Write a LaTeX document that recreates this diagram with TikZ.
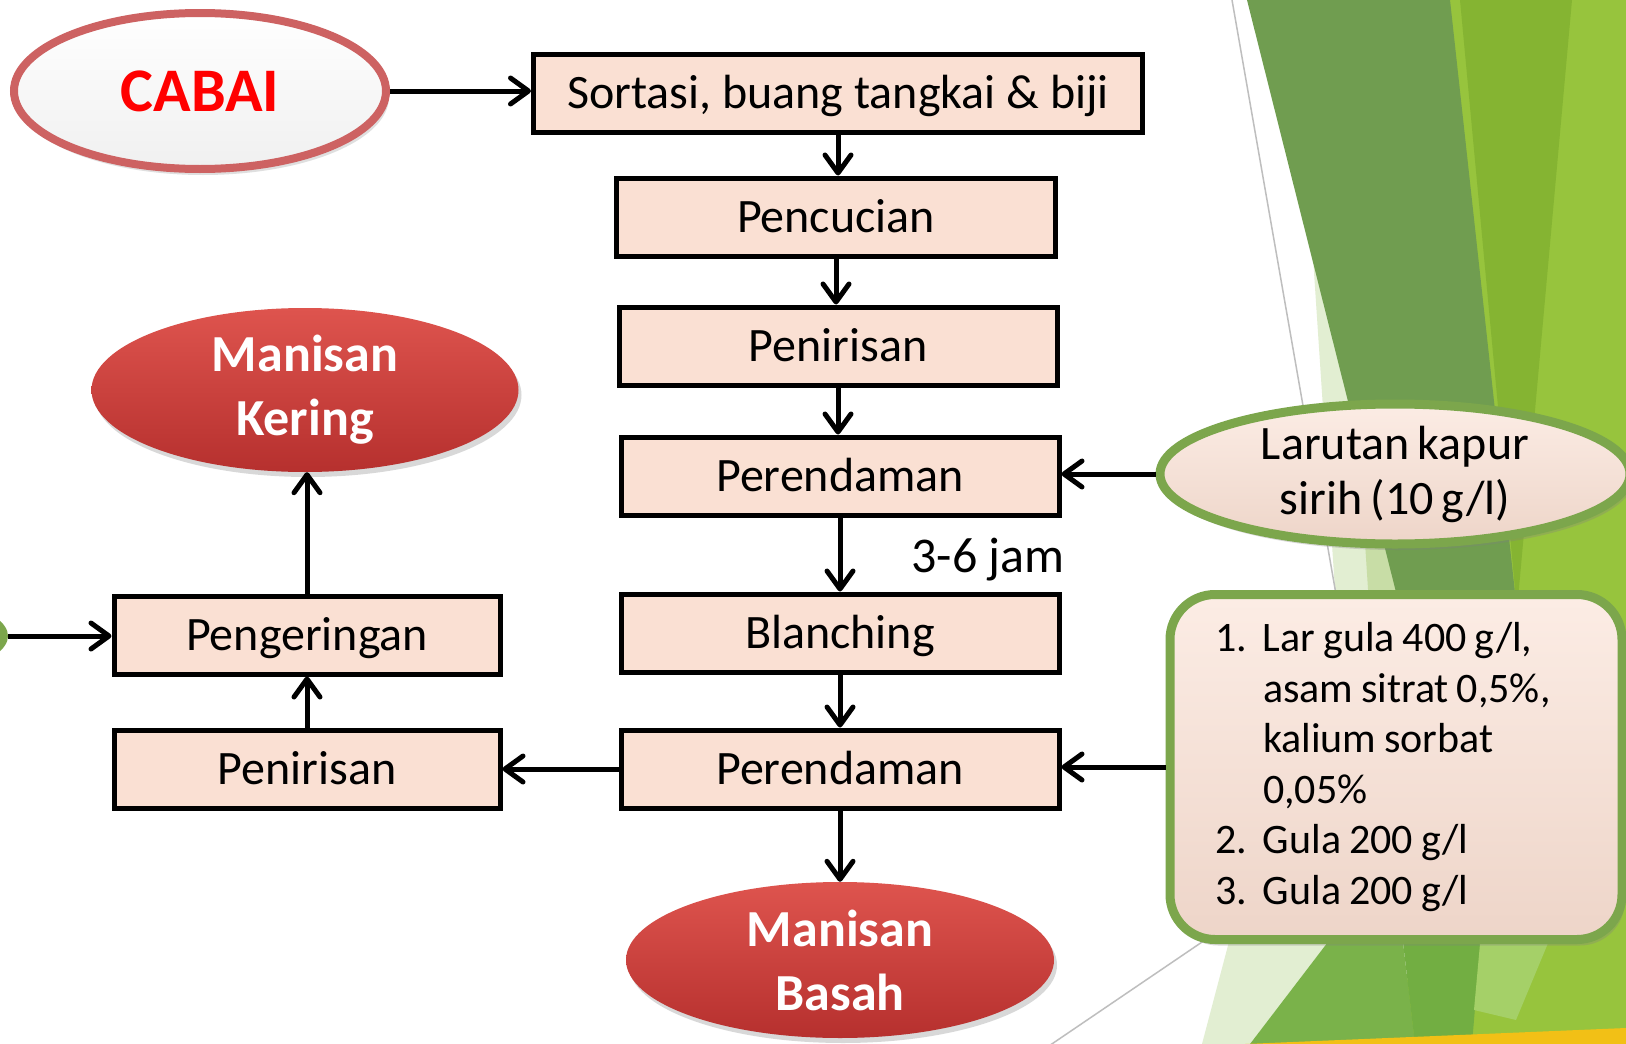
\documentclass[tikz,border=0pt]{standalone}
\usepackage{fontspec}
\setmainfont{Carlito}
\usetikzlibrary{arrows.meta,shapes.geometric,shadows,calc}
\definecolor{boxfill}{RGB}{250,224,211}
\definecolor{gdark}{RGB}{112,157,80}
\definecolor{gmid}{RGB}{133,180,50}
\definecolor{gbright}{RGB}{151,196,61}
\definecolor{gpale}{RGB}{226,238,210}
\definecolor{glight}{RGB}{200,221,166}
\definecolor{gbot}{RGB}{122,178,74}
\definecolor{gbotb}{RGB}{114,174,66}
\definecolor{gbotl}{RGB}{165,208,104}
\definecolor{yband}{RGB}{242,192,22}
\definecolor{redtop}{RGB}{222,84,78}
\definecolor{redbot}{RGB}{182,48,46}
\definecolor{greenedge}{RGB}{124,166,76}
\definecolor{cabaiedge}{RGB}{205,98,98}
\newcommand\larfont{\fontsize{48}{55}\selectfont\spaceskip=0.17em\relax}
\newcommand\listfont{\fontsize{42}{50.5}\selectfont}
\newcommand\tightsp{\spaceskip=0.19em\xspaceskip=0.19em\relax}
\begin{document}
\begin{tikzpicture}[x=1pt,y=-1pt,
  procbox/.style={draw=black, line width=5pt, fill=boxfill, minimum height=78pt,
    inner sep=0pt, text height=34pt, text depth=3pt, font=\fontsize{48}{58}\selectfont},
  arr/.style={line width=5pt, -{Straight Barb[length=18pt,width=26pt,round]}},
  redoval/.style={ellipse, inner sep=0pt, top color=redtop, bottom color=redbot,
    text=white, align=center, font=\fontsize{52}{64}\selectfont\bfseries,
    drop shadow={opacity=0.3, shadow xshift=3pt, shadow yshift=-5pt}},
  greenedged/.style={draw=greenedge, line width=9pt, top color=boxfill!60!white, bottom color=boxfill!95!black,
    drop shadow={opacity=0.3, shadow xshift=3pt, shadow yshift=-6pt}},
  bgline/.style={draw={rgb,255:red,190;green,190;blue,190}, line width=1.5pt}
]
\useasboundingbox (0,0) rectangle (1626,1044);
\clip (0,0) rectangle (1626,1044);
\fill[white] (0,0) rectangle (1626,1044);
% background facets
\fill[gbright] (1440,0) -- (1626,0) -- (1626,1044) -- (1400,1044) -- (1450,600) -- cycle;
\fill[gpale] (1296,0) -- (1340,0) -- (1372,620) -- (1337,620) -- cycle;
\fill[glight] (1330,0) -- (1362,0) -- (1404,620) -- (1370,620) -- cycle;
\fill[gdark] (1247,0) -- (1450,0) -- (1518,620) -- (1403,620) -- cycle;
\fill[gmid] (1460,0) -- (1572,0) -- (1517,610) -- cycle;
\fill[gpale] (1240,900) -- (1360,900) -- (1250,1044) -- (1202,1044) -- cycle;
\fill[gbot] (1360,900) -- (1398,900) -- (1415,1044) -- (1250,1044) -- cycle;
\fill[gbotb] (1398,900) -- (1484,900) -- (1472,1044) -- (1415,1044) -- cycle;
\fill[gbotl] (1484,900) -- (1566,900) -- (1516,1020) -- (1474,1010) -- cycle;
\fill[yband] (1245,1044) -- (1626,1028) -- (1626,1044) -- cycle;
\draw[bgline] (1232,0) -- (1337,600);
\draw[bgline] (1040,1052) -- (1205,940);

% main column
\node[procbox, minimum width=609pt] (s1) at (838,93) {Sortasi, buang tangkai \& biji};
\node[procbox, minimum width=439pt] (s2) at (836,217) {Pencucian};
\node[procbox, minimum width=438pt] (s3) at (838,346) {Penirisan};
\node[procbox, minimum width=438pt] (s4) at (840,476) {Perendaman};
\node[procbox, minimum width=438pt] (s5) at (840,633) {Blanching};
\node[procbox, minimum width=438pt] (s6) at (840,769) {Perendaman};
\node[font=\fontsize{50}{60}\selectfont] (jam) at (988,560) {3-6 jam};

% left column
\node[procbox, minimum width=386pt] (p1) at (307,769) {Penirisan};
\node[procbox, minimum width=386pt] (p2) at (307,635) {Pengeringan};

% ovals
\node[ellipse, inner sep=0pt, minimum width=372pt, minimum height=156pt,
  draw=cabaiedge, line width=8pt, top color=white, bottom color=black!6,
  text=red, font=\fontsize{62}{72}\selectfont\bfseries,
  drop shadow={opacity=0.25, shadow xshift=3pt, shadow yshift=-6pt}] (cabai) at (200,91) {CABAI};
\node[redoval, minimum width=427pt, minimum height=164pt] (kering) at (305,390) {Manisan\\Kering};
\node[redoval, minimum width=428pt, minimum height=156pt] (basah) at (840,960) {Manisan\\Basah};
\node[ellipse, inner sep=0pt, minimum width=316pt, minimum height=96pt, fill=greenedge] (dry) at (-150,636) {};

% inputs
\node[greenedged, ellipse, inner sep=0pt, minimum width=470pt, minimum height=140pt,
  align=center, font=\larfont] (lar) at (1395,474) {Larutan kapur\\sirih (10 g/l)};
\node[greenedged, rounded corners=45pt, inner sep=0pt, minimum width=452pt, minimum height=345pt,
  text width=362pt, align=left, font=\listfont] (sugar) at (1396,767)
  {\tightsp\makebox[48pt][l]{1.}Lar gula 400 g/l,\\
   \hspace*{48pt}asam sitrat 0,5\%,\\
   \hspace*{48pt}kalium sorbat\\
   \hspace*{48pt}0,05\%\\
   \makebox[48pt][l]{2.}Gula 200 g/l\\
   \makebox[48pt][l]{3.}Gula 200 g/l};

% connectors
\draw[arr] (cabai.east) -- (cabai.east -| s1.west);
\draw[arr] (s1.south) -- (s1.south |- s2.north);
\draw[arr] (s2.south) -- (s2.south |- s3.north);
\draw[arr] (s3.south) -- (s3.south |- s4.north);
\draw[arr] (s4.south) -- (s4.south |- s5.north);
\draw[arr] (s5.south) -- (s5.south |- s6.north);
\draw[arr] (s6.south) -- (s6.south |- basah.north);
\draw[arr] (lar.west) -- (lar.west -| s4.east);
\draw[arr] (sugar.west) -- (sugar.west -| s6.east);
\draw[arr] (s6.west) -- (s6.west -| p1.east);
\draw[arr] (p1.north) -- (p2.south);
\draw[arr] (p2.north) -- (p2.north |- kering.south);
\draw[arr] (dry.east) -- (dry.east -| p2.west);
\end{tikzpicture}
\end{document}
